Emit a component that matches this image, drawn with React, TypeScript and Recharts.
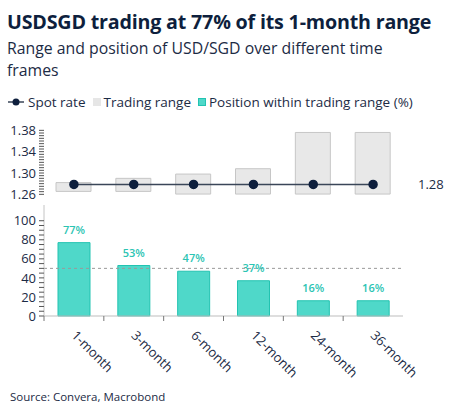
import React from "react";
import {
  ComposedChart,
  Bar,
  Line,
  XAxis,
  YAxis,
  ReferenceLine,
  LabelList,
} from "recharts";

// ---- data ----
const categories = ["1-month", "3-month", "6-month", "12-month", "24-month", "36-month"];
const rangeLow = [1.2655, 1.2655, 1.2605, 1.2605, 1.2605, 1.2605];
const rangeHigh = [1.282, 1.29, 1.298, 1.308, 1.376, 1.376];
const spotRate = [1.2785, 1.2785, 1.2785, 1.2785, 1.2785, 1.2785];
const positionPct = [77, 53, 47, 37, 16, 16];

const rateLabels = [1.26, 1.3, 1.34, 1.38];
const pctLabels = [0, 20, 40, 60, 80, 100];

// minor tick marks (labels only on the lists above)
const rateTicks = Array.from({ length: 25 }, (_, i) => +(1.26 + i * 0.005).toFixed(3));
const pctTicks = Array.from({ length: 21 }, (_, i) => i * 5);

const rows = categories.map((name, i) => ({
  name,
  range: [rangeLow[i], rangeHigh[i]],
  spot: spotRate[i],
  pct: positionPct[i],
}));

// ---- layout ----
const W = 455;
const AXIS_W = 44;
const RIGHT = 52;
const HALF_BAND = (W - AXIS_W - RIGHT) / categories.length / 2;

const FONT = "'Open Sans', sans-serif";
const NAVY = "#0e1f3d";
const TEXT = "#1c2b45";
const TEAL = "#4fd8c9";
const TEAL_EDGE = "#22c3b1";
const TEAL_TEXT = "#2cc4b3";

const tickStyle = { fontSize: 13, fill: TEXT, fontFamily: FONT };

const XTick = (props: any) => {
  const { x, y, payload } = props;
  const lx = x;
  const ly = y + 17;
  return (
    <g>
      <line x1={x - HALF_BAND} x2={x - HALF_BAND} y1={y} y2={y + 5} stroke="#777" />
      <text
        x={lx}
        y={ly}
        dy="0.35em"
        textAnchor="start"
        transform={`rotate(45, ${lx}, ${ly})`}
        style={tickStyle}
      >
        {payload.value}
      </text>
    </g>
  );
};

function Legend() {
  const item = { display: "flex", alignItems: "center" } as const;
  return (
    <div
      style={{
        position: "absolute",
        top: 93,
        left: 8,
        display: "flex",
        gap: 7,
        fontSize: 13.5,
        color: TEXT,
        fontFamily: FONT,
        whiteSpace: "nowrap",
      }}
    >
      <div style={item}>
        <svg width={16} height={10} style={{ marginRight: 4 }}>
          <line x1={0} x2={16} y1={5} y2={5} stroke="#3a4658" strokeWidth={1.5} />
          <circle cx={8} cy={5} r={3.5} fill={NAVY} />
        </svg>
        Spot rate
      </div>
      <div style={item}>
        <span style={{ width: 8, height: 8, background: "#e6e6e6", marginRight: 3 }} />
        Trading range
      </div>
      <div style={item}>
        <span
          style={{
            width: 6,
            height: 6,
            background: TEAL,
            border: `1px solid ${TEAL_EDGE}`,
            marginRight: 3,
          }}
        />
        Position within trading range (%)
      </div>
    </div>
  );
}

export default function App() {
  return (
    <div
      style={{
        position: "absolute",
        top: 0,
        left: 0,
        width: W,
        height: 416,
        background: "#fff",
        fontFamily: FONT,
        overflow: "hidden",
      }}
    >
      <div
        style={{
          position: "absolute",
          top: 8,
          left: 7,
          fontSize: 19.7,
          fontWeight: 700,
          color: NAVY,
          whiteSpace: "nowrap",
          letterSpacing: -0.2,
        }}
      >
        USDSGD trading at 77% of its 1-month range
      </div>
      <div
        style={{
          position: "absolute",
          top: 37,
          left: 7,
          width: 405,
          fontSize: 15.8,
          lineHeight: "22px",
          color: TEXT,
        }}
      >
        Range and position of USD/SGD over different time frames
      </div>

      <Legend />

      {/* upper panel: trading range and spot rate */}
      <div style={{ position: "absolute", top: 0, left: 0 }}>
        <ComposedChart
          width={W}
          height={206}
          data={rows}
          margin={{ top: 125, right: RIGHT, bottom: 1, left: 0 }}
        >
          <XAxis
            dataKey="name"
            height={0}
            tick={false}
            tickLine={false}
            axisLine={{ stroke: "#c4c4c4" }}
          />
          <YAxis
            domain={[1.24, 1.39]}
            ticks={rateTicks}
            interval={0}
            width={AXIS_W}
            axisLine={false}
            tickLine={{ stroke: "#555" }}
            tickSize={5}
            tickMargin={3}
            tick={tickStyle}
            tickFormatter={(v: number) =>
              rateLabels.some((l) => Math.abs(l - v) < 1e-6) ? v.toFixed(2) : ""
            }
            allowDataOverflow
          />
          <Bar
            dataKey="range"
            barSize={35}
            fill="#e8e8e8"
            stroke="#c6c6c6"
            isAnimationActive={false}
          />
          <Line
            dataKey="spot"
            stroke="#3a4658"
            strokeWidth={1.5}
            dot={{ r: 4, fill: NAVY, stroke: NAVY }}
            activeDot={false}
            isAnimationActive={false}
          />
          <ReferenceLine
            y={spotRate[spotRate.length - 1]}
            stroke="none"
            label={{
              value: spotRate[spotRate.length - 1].toFixed(2),
              position: "right",
              offset: 15,
              fill: TEXT,
              fontSize: 13,
              fontFamily: FONT,
            }}
          />
        </ComposedChart>
      </div>

      {/* lower panel: position within range */}
      <div style={{ position: "absolute", top: 200, left: 0 }}>
        <ComposedChart
          width={W}
          height={200}
          data={rows}
          margin={{ top: 5, right: RIGHT, bottom: 14, left: 0 }}
        >
          <XAxis
            dataKey="name"
            height={70}
            interval={0}
            tickLine={false}
            tickSize={0}
            tickMargin={0}
            axisLine={{ stroke: "#bdbdbd" }}
            tick={<XTick />}
          />
          <YAxis
            domain={[0, 116.5]}
            ticks={pctTicks}
            interval={0}
            width={AXIS_W}
            axisLine={{ stroke: "#c4c4c4" }}
            tickLine={{ stroke: "#555" }}
            tickSize={5}
            tickMargin={3}
            tick={tickStyle}
            tickFormatter={(v: number) => (pctLabels.includes(v) ? String(v) : "")}
          />
          <Bar
            dataKey="pct"
            barSize={32}
            fill={TEAL}
            stroke={TEAL_EDGE}
            isAnimationActive={false}
          >
            <LabelList
              dataKey="pct"
              position="top"
              offset={9}
              formatter={(v: any) => `${v}%`}
              style={{ fontSize: 11, fontWeight: 600, fill: TEAL_TEXT, fontFamily: FONT }}
            />
          </Bar>
          <ReferenceLine y={50} stroke="#9a9a9a" strokeDasharray="3 3" />
        </ComposedChart>
      </div>

      <div
        style={{
          position: "absolute",
          top: 389,
          left: 10,
          fontSize: 11.5,
          color: TEXT,
        }}
      >
        Source: Convera, Macrobond
      </div>
    </div>
  );
}
